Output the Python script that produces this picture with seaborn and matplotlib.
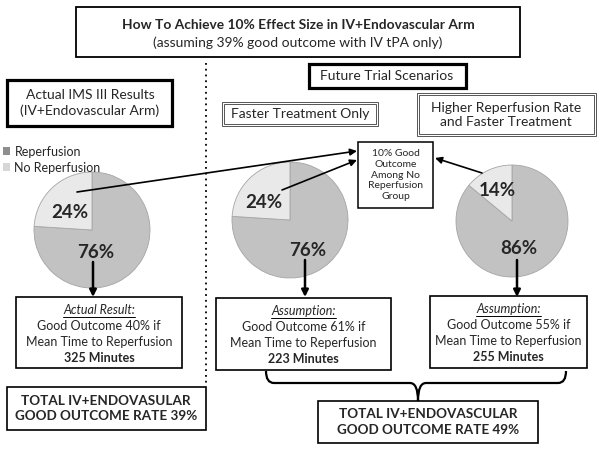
import numpy as np
import seaborn as sns
import matplotlib.pyplot as plt
from matplotlib.patches import Rectangle, Patch
from matplotlib.path import Path
from matplotlib.patches import PathPatch

sns.set_style("white")
plt.rcParams['font.family'] = ['Lato', 'DejaVu Sans']

# data
groups = ["Reperfusion", "No Reperfusion"]
actual_share = [76, 24]
faster_share = [76, 24]
higher_share = [86, 14]
good_outcome = [40, 61, 55]
minutes = [325, 223, 255]
total_rate = [39, 49]
pie_colors = ["#c2c2c2", "#e9e9e9"]
legend_colors = ["#8e8e8e", "#d6d6d6"]

fig = plt.figure(figsize=(6.01, 4.5), dpi=100)
ax = fig.add_axes([0, 0, 1, 1])


def box(x0, y0, x1, y1, lw=1.0, double=False):
    if double:
        ax.add_patch(Rectangle((x0, y0), x1 - x0, y1 - y0, fill=False,
                               ec="#555555", lw=0.7))
        ax.add_patch(Rectangle((x0 + 2, y0 + 2), x1 - x0 - 4, y1 - y0 - 4,
                               fill=False, ec="#555555", lw=0.7))
    else:
        ax.add_patch(Rectangle((x0, y0), x1 - x0, y1 - y0, fill=False,
                               ec="black", lw=lw))


def arrow(x0, y0, x1, y1, lw=1.2):
    ax.annotate("", xy=(x1, y1), xytext=(x0, y0),
                arrowprops=dict(arrowstyle="-|>", color="black", lw=lw,
                                mutation_scale=10, shrinkA=0, shrinkB=0))


# pies (y axis is inverted, so start at -90 and go counterclock in data space)
pies = [(actual_share, (92, 230), 58), (faster_share, (290, 220), 58),
        (higher_share, (512, 221), 56)]
for share, c, r in pies:
    ax.pie(share, center=c, radius=r, startangle=-90, counterclock=True,
           colors=pie_colors, wedgeprops=dict(ec="#a5a5a5", lw=0.6))

# pie labels
label_pos = [((70, 212), (96, 253)), ((264, 203), (308, 250)),
             ((497, 190), (519, 248))]
for (share, c, r), (p_no, p_rep) in zip(pies, label_pos):
    ax.text(*p_rep, f"{share[0]}%", ha="center", va="center",
            fontsize=13.5, fontweight="bold")
    ax.text(*p_no, f"{share[1]}%", ha="center", va="center",
            fontsize=13.5, fontweight="bold")

ax.set_xlim(0, 601)
ax.set_ylim(450, 0)
ax.set_aspect("equal")
ax.axis("off")

# title
box(76, 7, 520, 57, lw=1.3)
ax.text(298, 25, "How To Achieve 10% Effect Size in IV+Endovascular Arm",
        ha="center", va="center", fontsize=9.9, fontweight="bold")
ax.text(298, 43, "(assuming 39% good outcome with IV tPA only)",
        ha="center", va="center", fontsize=10)

# dotted divider
ax.plot([206, 206], [63, 384], ls=(0, (1, 2.2)), color="black", lw=1.3)

# heading boxes
box(7, 80, 172, 126, lw=2.3)
ax.text(90, 103, "Actual IMS III Results\n(IV+Endovascular Arm)",
        ha="center", va="center", fontsize=10, linespacing=1.3)
box(309, 64, 466, 88, lw=2.3)
ax.text(387, 76.5, "Future Trial Scenarios", ha="center", va="center",
        fontsize=10)
box(222, 102, 378, 126, double=True)
ax.text(300, 114.5, "Faster Treatment Only", ha="center", va="center",
        fontsize=10)
box(417, 93, 596, 136, double=True)
ax.text(506, 115, "Higher Reperfusion Rate\nand Faster Treatment",
        ha="center", va="center", fontsize=10, linespacing=1.3)

# legend
handles = [Patch(fc=col, ec="none") for col in legend_colors]
ax.legend(handles, groups, loc="upper left", bbox_to_anchor=(-0.004, 0.687),
          frameon=False, fontsize=9, handlelength=0.6, handleheight=0.6,
          handletextpad=0.35, labelspacing=0.3, borderaxespad=0)

# note box
box(358, 142, 433, 208, lw=1.1)
ax.text(395.5, 175, "10% Good\nOutcome\nAmong No\nReperfusion\nGroup",
        ha="center", va="center", fontsize=7.5, linespacing=1.28)

arrow(77, 192, 357, 151)
arrow(282, 190, 357, 160)
arrow(482, 173, 435, 158)

# down arrows to result boxes
for x, y0 in [(93, 262), (305, 260), (517, 260)]:
    arrow(x, y0, x, 297, lw=1.8)

# result boxes
res_boxes = [(16, 297, 182, 368), (216, 298, 391, 370), (430, 296, 587, 368)]
heads = ["Actual Result:", "Assumption:", "Assumption:"]
underline_texts = []
for (x0, y0, x1, y1), head, g, m in zip(res_boxes, heads, good_outcome,
                                        minutes):
    box(x0, y0, x1, y1, lw=1.2)
    cx = (x0 + x1) / 2
    t = ax.text(cx, y0 + 13, head, ha="center", va="center", fontsize=9,
                style="italic")
    underline_texts.append(t)
    ax.text(cx, y0 + 29, f"Good Outcome {g}% if", ha="center", va="center",
            fontsize=9)
    ax.text(cx, y0 + 45, "Mean Time to Reperfusion", ha="center",
            va="center", fontsize=9)
    ax.text(cx, y0 + 61, f"{m} Minutes", ha="center", va="center",
            fontsize=9, fontweight="bold")

# brace joining the two scenarios
verts = [(266, 371), (266, 383), (274, 383), (410, 383), (418, 383),
         (418, 401), (418, 383), (426, 383), (558, 383), (566, 383),
         (566, 371)]
codes = [Path.MOVETO, Path.CURVE3, Path.CURVE3, Path.LINETO, Path.CURVE3,
         Path.CURVE3, Path.CURVE3, Path.CURVE3, Path.LINETO, Path.CURVE3,
         Path.CURVE3]
ax.add_patch(PathPatch(Path(verts, codes), fill=False, lw=1.6, ec="black"))

# totals
box(7, 387, 206, 430, lw=1.2)
ax.text(106, 408.5, f"TOTAL IV+ENDOVASULAR\nGOOD OUTCOME RATE {total_rate[0]}%",
        ha="center", va="center", fontsize=9.7, fontweight="bold",
        linespacing=1.3)
box(318, 401, 538, 443, lw=1.2)
ax.text(428, 422, f"TOTAL IV+ENDOVASCULAR\nGOOD OUTCOME RATE {total_rate[1]}%",
        ha="center", va="center", fontsize=9.7, fontweight="bold",
        linespacing=1.3)

# underline the italic headings
fig.canvas.draw()
inv = ax.transData.inverted()
for t in underline_texts:
    bb = t.get_window_extent()
    (xa, ya), (xb, yb) = inv.transform([[bb.x0, bb.y0], [bb.x1, bb.y1]])
    ax.plot([xa, xb], [ya + 0.5, ya + 0.5], color="black", lw=0.7)

fig.savefig("out.png", dpi=100)
